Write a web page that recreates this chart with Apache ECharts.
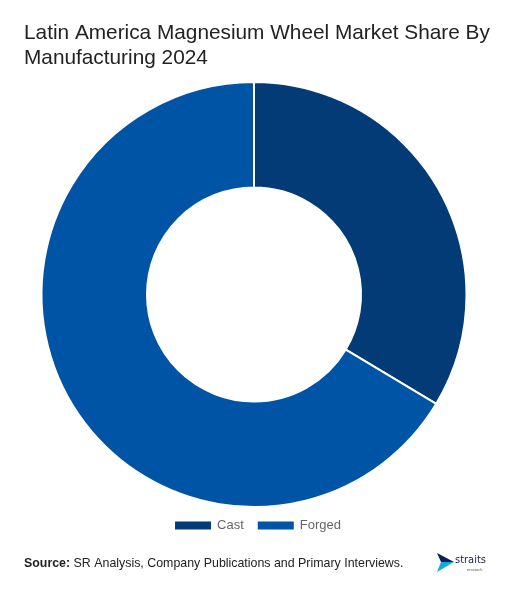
<!DOCTYPE html>
<html>
<head>
<meta charset="utf-8">
<script src="https://cdn.jsdelivr.net/npm/echarts@6/dist/echarts.min.js"></script>
<style>
  html, body { margin: 0; padding: 0; background: #fff; }
  #chart { width: 514px; height: 597px; }
</style>
</head>
<body>
<div id="chart"></div>
<script>
  // market share by manufacturing type (%)
  var categories = ['Cast', 'Forged'];
  var shares = [33.6, 66.4];
  var colors = ['#033b77', '#0054a6'];

  var FONT = 'Arial, "Liberation Sans", Helvetica, sans-serif';

  var chart = echarts.init(document.getElementById('chart'));

  var option = {
    animation: false,
    backgroundColor: '#fff',
    title: {
      text: 'Latin America Magnesium Wheel Market Share By\nManufacturing 2024',
      left: 24,
      top: 21,
      padding: 0,
      textStyle: {
        fontFamily: FONT,
        fontSize: 20.8,
        fontWeight: 'normal',
        color: '#222',
        lineHeight: 25
      }
    },
    legend: {
      data: categories,
      left: 'center',
      top: 514,
      itemWidth: 38,
      itemHeight: 10,
      itemGap: 12,
      icon: 'rect',
      textStyle: {
        fontFamily: FONT,
        fontSize: 13,
        color: '#666'
      }
    },
    series: [
      {
        type: 'pie',
        center: [254, 294.5],
        radius: [107, 212.5],
        startAngle: 90,
        clockwise: true,
        label: { show: false },
        labelLine: { show: false },
        emphasis: { scale: false },
        itemStyle: {
          borderColor: '#fff',
          borderWidth: 2
        },
        data: categories.map(function (name, i) {
          return { name: name, value: shares[i], itemStyle: { color: colors[i] } };
        })
      }
    ],
    graphic: [
      {
        type: 'text',
        left: 24,
        top: 558,
        style: {
          text: '{b|Source:} SR Analysis, Company Publications and Primary Interviews.',
          fontFamily: FONT,
          fontSize: 12.4,
          fill: '#222',
          rich: {
            b: { fontFamily: FONT, fontSize: 12.4, fontWeight: 'bold', fill: '#222' }
          }
        }
      },
      // straits logo
      {
        type: 'polygon',
        shape: { points: [[437, 553], [454, 562], [441, 562]] },
        style: { fill: '#0b2050' }
      },
      {
        type: 'polygon',
        shape: { points: [[441, 562], [454, 562], [437, 572]] },
        style: { fill: '#17a9e6' }
      },
      {
        type: 'text',
        left: 455,
        top: 555,
        style: {
          text: 'straits',
          fontFamily: 'DejaVu Sans Condensed',
          fontSize: 11,
          fill: '#1a2340'
        }
      },
      {
        type: 'text',
        left: 467,
        top: 568,
        style: {
          text: 'research',
          fontFamily: FONT,
          fontSize: 4,
          fill: '#555'
        }
      }
    ]
  };

  chart.setOption(option);
</script>
</body>
</html>
